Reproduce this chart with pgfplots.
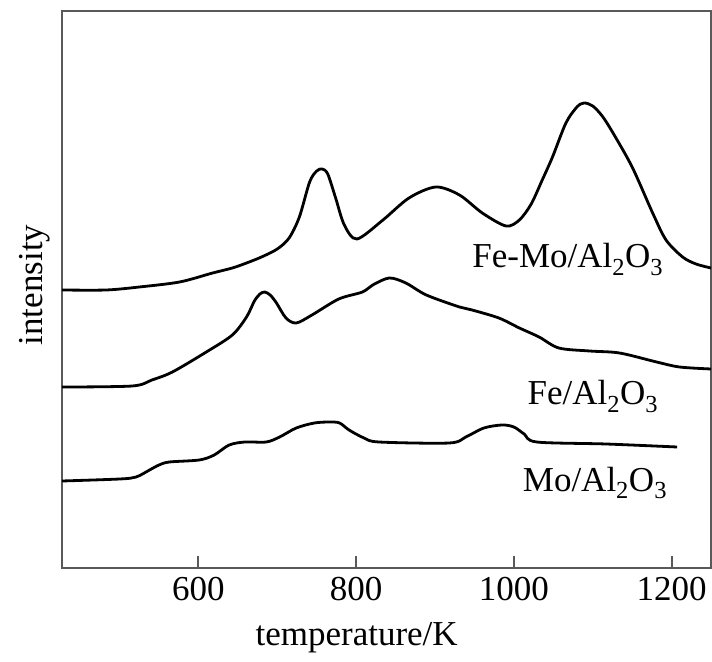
\documentclass[border=0pt]{standalone}
\usepackage{fontspec}
\setmainfont{Liberation Serif}
\usepackage{pgfplots}
\pgfplotsset{compat=1.18}

\begin{document}
\begin{tikzpicture}[font=\fontsize{35bp}{42bp}\selectfont]
\useasboundingbox (-62bp,-94bp) rectangle (650bp,568bp);
\begin{axis}[
  scale only axis, width=649bp, height=557bp,
  xmin=427, xmax=1250, ymin=0, ymax=557,
  axis line style={draw=black!65, line width=2.6bp},
  xtick={600,800,1000,1200}, ytick=\empty,
  xtick pos=bottom, tick align=inside, major tick length=12bp,
  tick style={black!65, line width=2bp},
  /pgf/number format/assume math mode=true,
  /pgf/number format/1000 sep={},
  xticklabel style={font=\fontsize{35bp}{42bp}\selectfont, anchor=base, yshift=-32bp},
  xlabel={temperature/K}, ylabel={intensity},
  xlabel style={at={(axis description cs:0.454,0)}, anchor=base, yshift=-77bp},
  ylabel style={at={(axis description cs:-0.0308,0.508)}, anchor=base, rotate=0},
]
% Fe-Mo/Al2O3
\addplot[black, line width=2.8bp, smooth] coordinates {
 (427,278) (483,278) (525,281) (576,286) (618,295) (643,300) (661,305)
 (680,311) (700,319) (715,330) (728,351) (741,386) (750,397) (757,399) (764,394)
 (774,370) (785,343) (801,329) (834,348) (867,370) (901,381) (931,373) (960,355)
 (990,342) (1007,348) (1022,364) (1036,388) (1049,411) (1066,445) (1080,461) (1089,465)
 (1100,462) (1112,452) (1125,436) (1150,401) (1176,355) (1193,328) (1214,311)
 (1231,304) (1250,300)
};
% Fe/Al2O3
\addplot[black, line width=2.8bp, smooth] coordinates {
 (427,181) (516,182) (541,188) (567,196) (610,216) (643,233) (661,251)
 (671,267) (678,274) (684,276) (691,273) (699,265) (711,250) (724,245) (744,253) (778,269)
 (808,276) (821,283) (842,290) (863,285) (889,273) (931,261) (947,258)
 (981,250) (1007,240) (1032,231) (1057,220) (1096,217) (1134,215)
 (1181,206) (1210,201) (1250,199)
};
% Mo/Al2O3
\addplot[black, line width=2.8bp, smooth] coordinates {
 (427,87) (500,89) (521,91) (538,98) (550,103) (563,106) (601,108)
 (620,113) (639,123) (659,126) (686,126) (703,131) (724,140) (747,145)
 (766,146) (779,145) (791,138) (810,130) (829,126) (918,125) (939,131)
 (962,140) (985,143) (1000,141) (1013,134) (1029,126) (1117,124) (1207,121)
};
\node[anchor=base west] at (axis cs:943,300) {Fe-Mo/Al\textsubscript{2}O\textsubscript{3}};
\node[anchor=base west] at (axis cs:1013,163) {Fe/Al\textsubscript{2}O\textsubscript{3}};
\node[anchor=base west] at (axis cs:1007,77) {Mo/Al\textsubscript{2}O\textsubscript{3}};
\end{axis}
\end{tikzpicture}
\end{document}
